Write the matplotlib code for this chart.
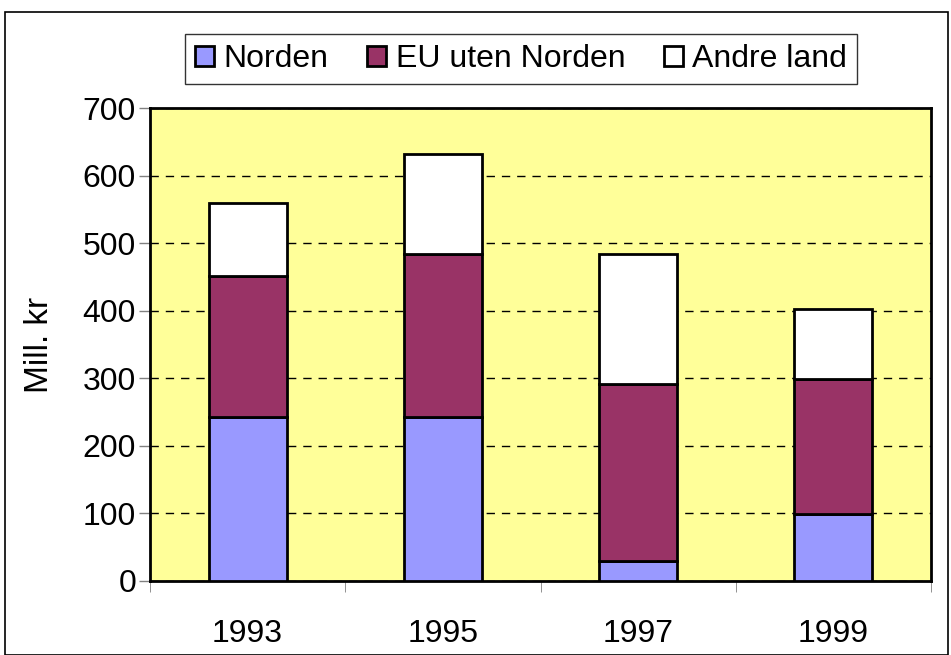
import numpy as np
import matplotlib.pyplot as plt
from matplotlib.patches import Rectangle

plt.rcParams['font.family'] = ['Liberation Sans', 'DejaVu Sans']

years = ['1993', '1995', '1997', '1999']
norden = [243, 243, 30, 99]
eu = [208, 241, 261, 200]
andre = [108, 148, 193, 104]

fig = plt.figure(figsize=(9.51, 6.55), dpi=100)
ax = fig.add_axes([150/951, 1-581/655, 781/951, 473/655])

# Outer frame #
fig.patches.append(Rectangle((5/951, 0), 943/951, 1-12/655, transform=fig.transFigure,
                             fill=False, edgecolor='black', linewidth=1.2))

x = np.arange(len(years))
w = 0.4
b1 = np.array(norden)
b2 = b1 + np.array(eu)
ax.bar(x, norden, w, color='#9999ff', edgecolor='black', linewidth=2, label='Norden', zorder=3)
ax.bar(x, eu, w, bottom=b1, color='#993366', edgecolor='black', linewidth=2, label='EU uten Norden', zorder=3)
ax.bar(x, andre, w, bottom=b2, color='white', edgecolor='black', linewidth=2, label='Andre land', zorder=3)

ax.set_facecolor('#ffff99')
ax.set_xlim(-0.5, len(years) - 0.5)
ax.set_ylim(0, 700)
ax.set_yticks(np.arange(0, 701, 100))
ax.tick_params(axis='y', labelsize=23, length=8, width=1, color='gray', pad=2)
ax.set_xticks(x)
ax.set_xticklabels(years, fontsize=23)
ax.tick_params(axis='x', length=0, pad=27)
ax.set_xticks(np.arange(-0.5, len(years)), minor=True)
ax.tick_params(axis='x', which='minor', length=8, color='gray')
ax.grid(axis='y', linestyle=(0, (6, 5)), color='black', linewidth=1, zorder=1)
for s in ax.spines.values():
    s.set_linewidth(2)
ax.set_ylabel('Mill. kr', fontsize=24, labelpad=20)

leg = fig.legend(loc='center', bbox_to_anchor=(521/951, 1-59/655), ncol=3, fontsize=23,
                 frameon=True, fancybox=False, edgecolor='black', handlelength=0.6,
                 handleheight=0.6, handletextpad=0.3, columnspacing=1.2, borderpad=0.3)
leg.get_frame().set_linewidth(1)

fig.savefig('out.png', dpi=100)
